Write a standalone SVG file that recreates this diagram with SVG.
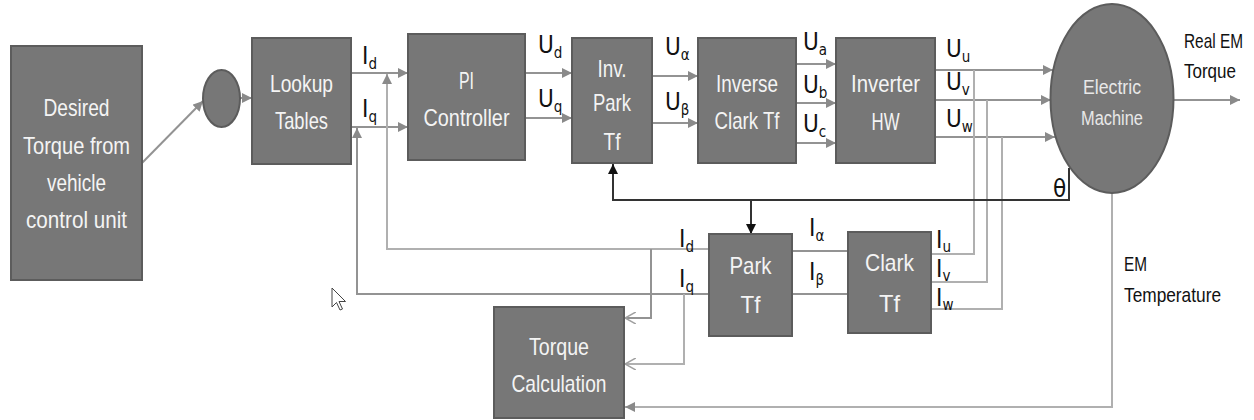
<svg xmlns="http://www.w3.org/2000/svg" width="1254" height="420" viewBox="0 0 1254 420">
<style>
.box{fill:#777777;stroke:#5c5c5c;stroke-width:2}
.bt{font-family:"Liberation Sans",Arial,sans-serif;fill:#f4f4f4;text-anchor:middle;font-size:24px}
.et{font-family:"Liberation Sans",Arial,sans-serif;fill:#e8e8e8;text-anchor:middle;font-size:20px}
.lb{font-family:"DejaVu Sans Condensed","Liberation Sans",sans-serif;fill:#111;font-size:24px}
.tx{font-family:"Liberation Sans",Arial,sans-serif;fill:#111;font-size:21px}
.sub{font-size:15px}
.c{fill:none;stroke:#939393;stroke-width:2}
.cl{fill:none;stroke:#b0b0b0;stroke-width:2}
.ck{fill:none;stroke:#333333;stroke-width:2}
</style>
<defs>
<marker id="ag" viewBox="0 0 10 10" refX="10" refY="5" markerWidth="5" markerHeight="5" orient="auto" markerUnits="strokeWidth"><path d="M0,0L10,5L0,10Z" fill="#8a8a8a"/></marker>
<marker id="ak" viewBox="0 0 10 10" refX="10" refY="5" markerWidth="5" markerHeight="5" orient="auto" markerUnits="strokeWidth"><path d="M0,0L10,5L0,10Z" fill="#111"/></marker>
<marker id="ao" viewBox="0 0 10 10" refX="9" refY="5" markerWidth="6" markerHeight="6" orient="auto" markerUnits="strokeWidth"><path d="M0,0L9,5L0,10" fill="none" stroke="#a0a0a0" stroke-width="1.2"/></marker>
</defs>

<g id="connectors">
<path class="c" d="M142,163L203,101" marker-end="url(#ag)"/>
<path class="c" d="M240,98L252,98" marker-end="url(#ag)"/>
<path class="c" d="M351,73L408,73" marker-end="url(#ag)"/>
<path class="c" d="M351,127L408,127" marker-end="url(#ag)"/>
<path class="cl" d="M708,249L387,249L387,74" marker-end="url(#ag)"/>
<path class="c" d="M708,294L357,294L357,128" marker-end="url(#ag)"/>
<path class="c" d="M525,73L572,73" marker-end="url(#ag)"/>
<path class="c" d="M525,118L572,118" marker-end="url(#ag)"/>
<path class="c" d="M652,76L698,76" marker-end="url(#ag)"/>
<path class="c" d="M652,123L698,123" marker-end="url(#ag)"/>
<path class="c" d="M796,64L836,64" marker-end="url(#ag)"/>
<path class="c" d="M796,103L836,103" marker-end="url(#ag)"/>
<path class="c" d="M796,143L836,143" marker-end="url(#ag)"/>
<path class="c" d="M935,70L1053,70" marker-end="url(#ag)"/>
<path class="c" d="M935,100L1051,100" marker-end="url(#ag)"/>
<path class="c" d="M935,137L1055,137" marker-end="url(#ag)"/>
<path class="cl" d="M974,70L974,254L931,254"/>
<path class="cl" d="M987,100L987,282L931,282"/>
<path class="cl" d="M1002,137L1002,309L931,309"/>
<path class="c" d="M792,251L848,251"/>
<path class="c" d="M792,294L848,294"/>
<path class="c" d="M651,249L651,318L625,318" marker-end="url(#ao)"/>
<path class="cl" d="M684,294L684,364L625,364" marker-end="url(#ao)"/>
<path class="cl" d="M1112,193L1112,407L625,407" marker-end="url(#ag)"/>
<path class="c" d="M1174,100L1240,100" marker-end="url(#ag)"/>
<path class="ck" d="M1069,168L1069,200L613,200L613,164" marker-end="url(#ak)"/>
<path class="ck" d="M751,200L751,234" marker-end="url(#ak)"/>
</g>

<g id="desired">
<rect class="box" x="11" y="46" width="131" height="234"/>
<text class="bt" x="76.5" y="116" textLength="66" lengthAdjust="spacingAndGlyphs">Desired</text>
<text class="bt" x="76.5" y="154" textLength="107" lengthAdjust="spacingAndGlyphs">Torque from</text>
<text class="bt" x="76.5" y="191" textLength="59" lengthAdjust="spacingAndGlyphs">vehicle</text>
<text class="bt" x="76.5" y="228" textLength="101" lengthAdjust="spacingAndGlyphs">control unit</text>
</g>

<g id="sum">
<ellipse cx="221.5" cy="98.5" rx="18.5" ry="28.5" fill="#777777" stroke="#5c5c5c" stroke-width="2"/>
</g>

<g id="lookup">
<rect class="box" x="252" y="38" width="99" height="126"/>
<text class="bt" x="301.5" y="92" textLength="63" lengthAdjust="spacingAndGlyphs">Lookup</text>
<text class="bt" x="301.5" y="129" textLength="53" lengthAdjust="spacingAndGlyphs">Tables</text>
</g>

<g id="pi">
<rect class="box" x="408" y="34" width="117" height="126"/>
<text class="bt" x="466.5" y="89" textLength="15" lengthAdjust="spacingAndGlyphs">PI</text>
<text class="bt" x="466.5" y="126" textLength="86" lengthAdjust="spacingAndGlyphs">Controller</text>
</g>

<g id="invpark">
<rect class="box" x="572" y="38" width="80" height="125"/>
<text class="bt" x="612" y="77" textLength="29" lengthAdjust="spacingAndGlyphs">Inv.</text>
<text class="bt" x="612" y="111" textLength="38" lengthAdjust="spacingAndGlyphs">Park</text>
<text class="bt" x="612" y="150" textLength="17" lengthAdjust="spacingAndGlyphs">Tf</text>
</g>

<g id="invclark">
<rect class="box" x="698" y="38" width="98" height="125"/>
<text class="bt" x="747" y="92" textLength="62" lengthAdjust="spacingAndGlyphs">Inverse</text>
<text class="bt" x="747" y="129" textLength="65" lengthAdjust="spacingAndGlyphs">Clark Tf</text>
</g>

<g id="inverter">
<rect class="box" x="836" y="38" width="99" height="125"/>
<text class="bt" x="885.5" y="92" textLength="69" lengthAdjust="spacingAndGlyphs">Inverter</text>
<text class="bt" x="885.5" y="130" textLength="28" lengthAdjust="spacingAndGlyphs">HW</text>
</g>

<g id="machine">
<ellipse cx="1112" cy="98.5" rx="61.5" ry="94.5" fill="#777777" stroke="#5c5c5c" stroke-width="2"/>
<text class="et" x="1112" y="94" textLength="58" lengthAdjust="spacingAndGlyphs">Electric</text>
<text class="et" x="1112" y="125" textLength="62" lengthAdjust="spacingAndGlyphs">Machine</text>
</g>

<g id="park">
<rect class="box" x="709" y="234" width="83" height="102"/>
<text class="bt" x="750.5" y="274" textLength="42" lengthAdjust="spacingAndGlyphs">Park</text>
<text class="bt" x="750.5" y="313" textLength="20" lengthAdjust="spacingAndGlyphs">Tf</text>
</g>

<g id="clark">
<rect class="box" x="848" y="232" width="83" height="101"/>
<text class="bt" x="889.5" y="271" textLength="49" lengthAdjust="spacingAndGlyphs">Clark</text>
<text class="bt" x="889.5" y="312" textLength="21" lengthAdjust="spacingAndGlyphs">Tf</text>
</g>

<g id="torquecalc">
<rect class="box" x="494" y="307" width="130" height="111"/>
<text class="bt" x="559" y="355" textLength="60" lengthAdjust="spacingAndGlyphs">Torque</text>
<text class="bt" x="559" y="392" textLength="95" lengthAdjust="spacingAndGlyphs">Calculation</text>
</g>

<g id="labels">
<text class="lb" x="362" y="64">I<tspan class="sub" dy="5">d</tspan></text>
<text class="lb" x="362" y="117">I<tspan class="sub" dy="5">q</tspan></text>
<text class="lb" x="538" y="53">U<tspan class="sub" dy="5">d</tspan></text>
<text class="lb" x="538" y="107">U<tspan class="sub" dy="5">q</tspan></text>
<text class="lb" x="665" y="55">U<tspan class="sub" dy="5">α</tspan></text>
<text class="lb" x="665" y="110">U<tspan class="sub" dy="5">β</tspan></text>
<text class="lb" x="803" y="50">U<tspan class="sub" dy="5">a</tspan></text>
<text class="lb" x="803" y="93">U<tspan class="sub" dy="5">b</tspan></text>
<text class="lb" x="803" y="132">U<tspan class="sub" dy="5">c</tspan></text>
<text class="lb" x="946" y="57">U<tspan class="sub" dy="5">u</tspan></text>
<text class="lb" x="946" y="90">U<tspan class="sub" dy="5">v</tspan></text>
<text class="lb" x="946" y="127">U<tspan class="sub" dy="5">w</tspan></text>
<text class="lb" x="1053" y="197" font-size="22">θ</text>
<text class="lb" x="679" y="247">I<tspan class="sub" dy="5">d</tspan></text>
<text class="lb" x="679" y="287">I<tspan class="sub" dy="5">q</tspan></text>
<text class="lb" x="809" y="236">I<tspan class="sub" dy="5">α</tspan></text>
<text class="lb" x="809" y="280">I<tspan class="sub" dy="5">β</tspan></text>
<text class="lb" x="936" y="248" font-size="22">I<tspan class="sub" dy="4">u</tspan></text>
<text class="lb" x="936" y="277" font-size="22">I<tspan class="sub" dy="4">v</tspan></text>
<text class="lb" x="936" y="306" font-size="22">I<tspan class="sub" dy="4">w</tspan></text>
<text class="tx" x="1243" y="48" text-anchor="end" textLength="59" lengthAdjust="spacingAndGlyphs">Real EM</text>
<text class="tx" x="1236" y="78" text-anchor="end" textLength="52" lengthAdjust="spacingAndGlyphs">Torque</text>
<text class="tx" x="1124" y="271" font-size="22" textLength="23" lengthAdjust="spacingAndGlyphs">EM</text>
<text class="tx" x="1124" y="302" font-size="22" textLength="97" lengthAdjust="spacingAndGlyphs">Temperature</text>
</g>

<path d="M332,288L332,307L336.5,302.5L340,310L342.5,309L339,301.5L345.5,301.5Z" fill="#ffffff" stroke="#444" stroke-width="1"/>
</svg>
